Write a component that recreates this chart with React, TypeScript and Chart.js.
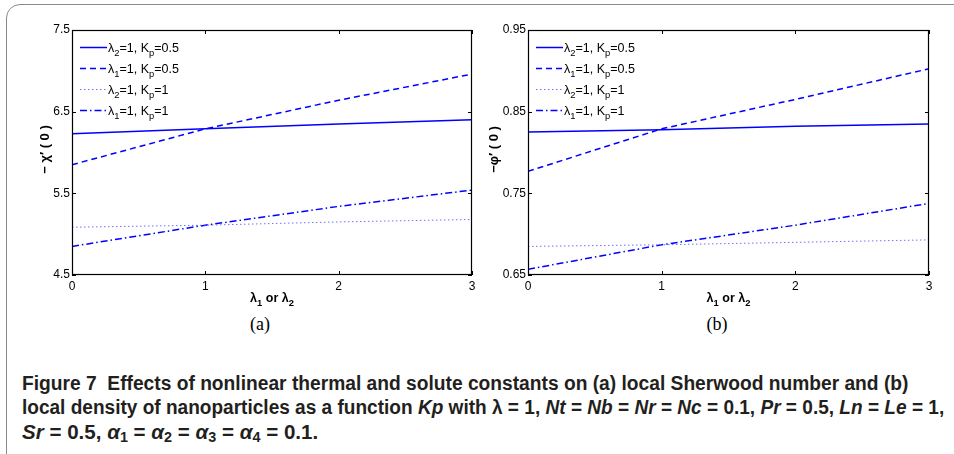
import React, { useEffect, useLayoutEffect, useRef } from 'react';
import { Chart, registerables } from 'chart.js';

Chart.register(...registerables);

// ---------- data ----------
const xValues = [0, 1, 2, 3];
const xTicks = [0, 1, 2, 3];

// panel (a): -chi'(0)
const aSolid = [6.23, 6.29, 6.35, 6.4];
const aDashed = [5.85, 6.29, 6.64, 6.96];
const aDotted = [5.085, 5.11, 5.15, 5.18];
const aDashDot = [4.85, 5.11, 5.34, 5.54];
const aYTicks = [4.5, 5.5, 6.5, 7.5];

// panel (b): -phi'(0)
const bSolid = [0.825, 0.828, 0.832, 0.835];
const bDashed = [0.777, 0.829, 0.865, 0.9025];
const bDotted = [0.685, 0.687, 0.69, 0.693];
const bDashDot = [0.657, 0.687, 0.711, 0.7376];
const bYTicks = [0.65, 0.75, 0.85, 0.95];

// legend labels: [text, isSubscript]
type Part = [string, number];
const seriesLabels: Part[][] = [
  [['λ', 0], ['2', 1], ['=1, K', 0], ['p', 1], ['=0.5', 0]],
  [['λ', 0], ['1', 1], ['=1, K', 0], ['p', 1], ['=0.5', 0]],
  [['λ', 0], ['2', 1], ['=1, K', 0], ['p', 1], ['=1', 0]],
  [['λ', 0], ['1', 1], ['=1, K', 0], ['p', 1], ['=1', 0]],
];
const xTitle: Part[] = [['λ', 0], ['1', 1], [' or λ', 0], ['2', 1]];

const seriesStyles = [
  { color: '#0000ff', width: 1.5, dash: [] as number[] },
  { color: '#0000ff', width: 1.5, dash: [6, 4] },
  { color: '#7070ff', width: 1, dash: [1.5, 2.5] },
  { color: '#0000ff', width: 1.5, dash: [7, 3, 1.5, 3] },
];

const FONT = '"Liberation Sans", Arial, Helvetica, sans-serif';

function drawRich(
  ctx: CanvasRenderingContext2D,
  parts: Part[],
  x: number,
  y: number,
  size: number,
  weight: string,
  align: 'left' | 'center'
) {
  const fontFor = (sub: number) => `${weight} ${sub ? size * 0.75 : size}px ${FONT}`;
  let total = 0;
  const widths: number[] = [];
  for (const [t, sub] of parts) {
    ctx.font = fontFor(sub);
    const w = ctx.measureText(t).width;
    widths.push(w);
    total += w;
  }
  let cx = align === 'center' ? x - total / 2 : x;
  ctx.textAlign = 'left';
  ctx.textBaseline = 'alphabetic';
  parts.forEach(([t, sub], i) => {
    ctx.font = fontFor(sub);
    ctx.fillText(t, cx, sub ? y + size * 0.32 : y);
    cx += widths[i];
  });
}

interface PanelProps {
  series: number[][];
  yTicks: number[];
  yTitle: string;
  yTitleX: number;
  yAxisWidth: number;
  padRight: number;
  width: number;
  height: number;
  left: number;
}

function Panel(p: PanelProps) {
  const ref = useRef<HTMLCanvasElement | null>(null);
  useEffect(() => {
    const canvas = ref.current!;
    const overlay = {
      id: 'overlay',
      afterDraw(chart: any) {
        const ctx: CanvasRenderingContext2D = chart.ctx;
        const a = chart.chartArea;
        const xs = chart.scales.x;
        const ys = chart.scales.y;
        ctx.save();
        // box
        ctx.strokeStyle = '#000';
        ctx.lineWidth = 1.2;
        ctx.strokeRect(a.left + 0.5, a.top + 0.5, a.right - a.left - 1, a.bottom - a.top - 1);
        // inward ticks
        ctx.lineWidth = 1;
        const tl = 4;
        ctx.beginPath();
        for (const v of xTicks) {
          const px = Math.round(xs.getPixelForValue(v)) + 0.5;
          ctx.moveTo(px, a.bottom);
          ctx.lineTo(px, a.bottom - tl);
          ctx.moveTo(px, a.top);
          ctx.lineTo(px, a.top + tl);
        }
        for (const v of p.yTicks) {
          const py = Math.round(ys.getPixelForValue(v)) + 0.5;
          ctx.moveTo(a.left, py);
          ctx.lineTo(a.left + tl, py);
          ctx.moveTo(a.right, py);
          ctx.lineTo(a.right - tl, py);
        }
        ctx.stroke();
        // legend
        ctx.fillStyle = '#000';
        seriesLabels.forEach((parts, i) => {
          const cy = a.top + 17 + i * 21;
          const st = seriesStyles[i];
          ctx.save();
          ctx.strokeStyle = st.color;
          ctx.lineWidth = st.width;
          ctx.setLineDash(st.dash);
          ctx.beginPath();
          ctx.moveTo(a.left + 8, cy + 0.5);
          ctx.lineTo(a.left + 35, cy + 0.5);
          ctx.stroke();
          ctx.restore();
          drawRich(ctx, parts, a.left + 36, cy + 4.5, 12.5, 'normal', 'left');
        });
        // x title
        const cx = (a.left + a.right) / 2;
        drawRich(ctx, xTitle, cx, a.bottom + 27, 12.5, 'bold', 'center');
        // y title
        ctx.save();
        ctx.translate(p.yTitleX, (a.top + a.bottom) / 2 - 3);
        ctx.rotate(-Math.PI / 2);
        ctx.font = `bold 13px ${FONT}`;
        ctx.textAlign = 'center';
        ctx.textBaseline = 'middle';
        ctx.fillText(p.yTitle, 0, 0);
        ctx.restore();
        ctx.restore();
      },
    };
    const chart = new Chart(canvas, {
      type: 'line',
      data: {
        datasets: p.series.map((vals, i) => ({
          data: xValues.map((x, j) => ({ x, y: vals[j] })),
          borderColor: seriesStyles[i].color,
          borderWidth: seriesStyles[i].width,
          borderDash: seriesStyles[i].dash,
          pointRadius: 0,
          fill: false,
          tension: 0,
        })),
      },
      options: {
        animation: false,
        responsive: false,
        devicePixelRatio: 1,
        layout: { padding: { top: 30, right: p.padRight, left: 0, bottom: 0 } },
        plugins: { legend: { display: false }, tooltip: { enabled: false } },
        scales: {
          x: {
            type: 'linear',
            min: 0,
            max: 3,
            grid: { display: false, drawTicks: false },
            border: { display: false },
            afterBuildTicks: (s: any) => {
              s.ticks = xTicks.map((v) => ({ value: v }));
            },
            afterFit: (s: any) => {
              s.height = p.height - 275;
            },
            ticks: {
              color: '#000',
              font: { family: FONT, size: 12 },
              padding: 4,
              maxRotation: 0,
              callback: (v: any) => String(v),
            },
          },
          y: {
            type: 'linear',
            min: p.yTicks[0],
            max: p.yTicks[p.yTicks.length - 1],
            grid: { display: false, drawTicks: false },
            border: { display: false },
            afterBuildTicks: (s: any) => {
              s.ticks = p.yTicks.map((v) => ({ value: v }));
            },
            afterFit: (s: any) => {
              s.width = p.yAxisWidth;
            },
            ticks: {
              color: '#000',
              font: { family: FONT, size: 12 },
              padding: 2,
              callback: (v: any) => String(v),
            },
          },
        },
      },
      plugins: [overlay],
    } as any);
    return () => chart.destroy();
  }, []);
  return (
    <canvas
      ref={ref}
      width={p.width}
      height={p.height}
      style={{ position: 'absolute', left: p.left, top: 0, width: p.width, height: p.height }}
    />
  );
}

const captionTargets = [886, 922, 296];

export default function App() {
  const lineRefs = [useRef<HTMLSpanElement | null>(null), useRef<HTMLSpanElement | null>(null), useRef<HTMLSpanElement | null>(null)];
  useLayoutEffect(() => {
    lineRefs.forEach((r, i) => {
      const el = r.current;
      if (!el) return;
      const w = el.offsetWidth;
      if (w > 0) el.style.transform = `scaleX(${captionTargets[i] / w})`;
    });
  }, []);
  const capStyle: React.CSSProperties = {
    position: 'absolute',
    left: 22,
    fontFamily: FONT,
    fontWeight: 'bold',
    fontSize: 20,
    lineHeight: '20px',
    whiteSpace: 'pre',
    color: '#231f20',
    display: 'inline-block',
    transformOrigin: 'left center',
  };
  const sub: React.CSSProperties = { fontSize: 14, verticalAlign: -3 };
  return (
    <div style={{ position: 'absolute', left: 0, top: 0, width: 954, height: 454, overflow: 'hidden', background: '#fff' }}>
      <div
        style={{
          position: 'absolute',
          left: 6,
          top: 4,
          width: 970,
          height: 470,
          border: '1.5px solid #8a8a8a',
          borderRadius: 14,
        }}
      />
      <Panel
        series={[aSolid, aDashed, aDotted, aDashDot]}
        yTicks={aYTicks}
        yTitle={'− χ′ ( 0 )'}
        yTitleX={45}
        yAxisWidth={72}
        padRight={8}
        width={480}
        height={310}
        left={0}
      />
      <Panel
        series={[bSolid, bDashed, bDotted, bDashDot]}
        yTicks={bYTicks}
        yTitle={'−φ′ ( 0 )'}
        yTitleX={14}
        yAxisWidth={48}
        padRight={25}
        width={474}
        height={310}
        left={480}
      />
      <div style={{ position: 'absolute', left: 240, width: 40, top: 314, textAlign: 'center', fontFamily: '"Liberation Serif", "DejaVu Serif", serif', fontSize: 18 }}>(a)</div>
      <div style={{ position: 'absolute', left: 697, width: 40, top: 314, textAlign: 'center', fontFamily: '"Liberation Serif", "DejaVu Serif", serif', fontSize: 18 }}>(b)</div>
      <span ref={lineRefs[0]} style={{ ...capStyle, top: 373 }}>
        {'Figure 7  Effects of nonlinear thermal and solute constants on (a) local Sherwood number and (b)'}
      </span>
      <span ref={lineRefs[1]} style={{ ...capStyle, top: 397 }}>
        {'local density of nanoparticles as a function '}<i>Kp</i>{' with λ = 1, '}<i>Nt</i>{' = '}<i>Nb</i>{' = '}<i>Nr</i>{' = '}<i>Nc</i>{' = 0.1, '}<i>Pr</i>{' = 0.5, '}<i>Ln</i>{' = '}<i>Le</i>{' = 1,'}
      </span>
      <span ref={lineRefs[2]} style={{ ...capStyle, top: 422 }}>
        <i>Sr</i>{' = 0.5, '}<i>α</i><span style={sub}>1</span>{' = '}<i>α</i><span style={sub}>2</span>{' = '}<i>α</i><span style={sub}>3</span>{' = '}<i>α</i><span style={sub}>4</span>{' = 0.1.'}
      </span>
    </div>
  );
}
